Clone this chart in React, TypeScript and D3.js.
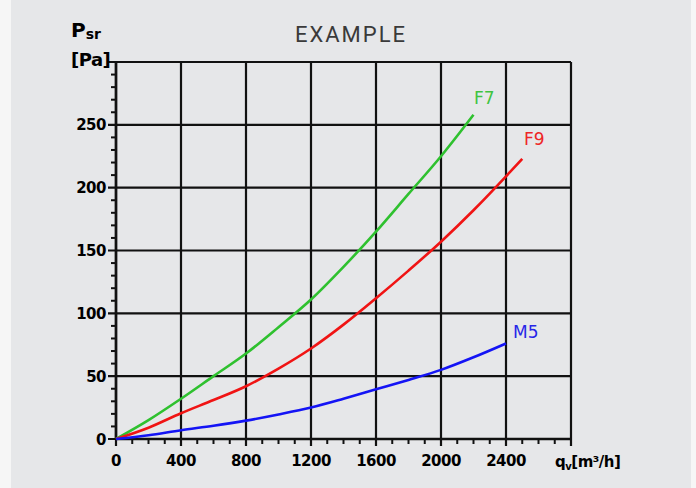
import React from "react";
import * as d3 from "d3";

const flowQ = [0, 200, 400, 600, 800, 1000, 1200, 1400, 1600, 1800, 2000, 2200, 2400, 2500];
const f7Values = [0, 15, 32, 50, 68, 89, 111, 137, 165, 195, 225, 258, null, null];
const f9Values = [0, 9, 20.5, 31, 42, 56, 72, 91, 112, 134, 157, 182, 209, 223];
const m5Values = [0, 3, 7, 10.5, 14.6, 19.5, 25, 32, 39.5, 47, 55, 65, 76, null];

const seriesNames = ["F7", "F9", "M5"];
const xTicks = [0, 400, 800, 1200, 1600, 2000, 2400];
const yTicks = [0, 50, 100, 150, 200, 250];

const W = 696;
const H = 488;

export default function App() {
  const x = d3.scaleLinear().domain([0, 2800]).range([116, 571]);
  const y = d3.scaleLinear().domain([0, 300]).range([439, 62]);

  const series = [
    { name: seriesNames[0], values: f7Values, color: "#2fc12f", label: "#3fc43f" },
    { name: seriesNames[1], values: f9Values, color: "#f01414", label: "#ee2626" },
    { name: seriesNames[2], values: m5Values, color: "#1414f5", label: "#2626e8" },
  ];

  const line = d3
    .line<[number, number]>()
    .x((d) => x(d[0]))
    .y((d) => y(d[1]))
    .curve(d3.curveMonotoneX);

  const minorX = d3.range(0, 2801, 100).filter((v) => v % 400 !== 0);
  const minorY = d3.range(0, 301, 10).filter((v) => v % 50 !== 0);

  const labelFont = "'DejaVu Sans', sans-serif";

  return (
    <svg
      width={W}
      height={H}
      style={{ position: "absolute", left: 0, top: 0, background: "#f6f6f6" }}
    >
      <rect x={11} y={0} width={680} height={H} fill="#e6e7e9" />
      <text
        x={351}
        y={42}
        textAnchor="middle"
        fontFamily="Roboto, 'Open Sans', sans-serif"
        fontSize={22}
        letterSpacing={2}
        fill="#3a3a3a"
      >
        EXAMPLE
      </text>

      {/* grid */}
      {xTicks.concat([2800]).map((v) => (
        <line
          key={"gx" + v}
          x1={x(v)}
          x2={x(v)}
          y1={y(300)}
          y2={y(0) + 7}
          stroke="#111"
          strokeWidth={2.2}
        />
      ))}
      {yTicks.concat([300]).map((v) => (
        <line
          key={"gy" + v}
          x1={x(0) - 8}
          x2={x(2800)}
          y1={y(v)}
          y2={y(v)}
          stroke="#111"
          strokeWidth={2.2}
        />
      ))}
      {minorX.map((v) => (
        <line key={"mx" + v} x1={x(v)} x2={x(v)} y1={y(0)} y2={y(0) + 5} stroke="#111" strokeWidth={2} />
      ))}
      {minorY.map((v) => (
        <line key={"my" + v} x1={x(0) - 5} x2={x(0)} y1={y(v)} y2={y(v)} stroke="#111" strokeWidth={2} />
      ))}
      <line x1={x(0)} x2={x(0)} y1={y(300)} y2={y(0)} stroke="#111" strokeWidth={2.6} />
      <line x1={x(0)} x2={x(2800)} y1={y(0)} y2={y(0)} stroke="#111" strokeWidth={2.6} />

      {/* curves */}
      {series.map((s) => {
        const pts: [number, number][] = [];
        flowQ.forEach((q, i) => {
          const v = s.values[i];
          if (v !== null && v !== undefined) pts.push([q, v]);
        });
        return (
          <path
            key={s.name}
            d={line(pts) || ""}
            fill="none"
            stroke={s.color}
            strokeWidth={2.6}
          />
        );
      })}

      {/* series labels */}
      <text x={474} y={104} fontFamily={labelFont} fontSize={17} fill={series[0].label}>
        {series[0].name}
      </text>
      <text x={524} y={145} fontFamily={labelFont} fontSize={17} fill={series[1].label}>
        {series[1].name}
      </text>
      <text x={513} y={338} fontFamily={labelFont} fontSize={17} fill={series[2].label}>
        {series[2].name}
      </text>

      {/* tick labels */}
      {yTicks.map((v) => (
        <text
          key={"ly" + v}
          x={106}
          y={y(v) + 5.5}
          textAnchor="end"
          fontFamily={labelFont}
          fontWeight="bold"
          fontSize={15}
          letterSpacing={-0.5}
          fill="#000"
        >
          {v}
        </text>
      ))}
      {xTicks.map((v) => (
        <text
          key={"lx" + v}
          x={x(v)}
          y={466}
          textAnchor="middle"
          fontFamily={labelFont}
          fontWeight="bold"
          fontSize={15}
          letterSpacing={-0.5}
          fill="#000"
        >
          {v}
        </text>
      ))}

      {/* axis titles */}
      <text x={71} y={37} fontFamily={labelFont} fontWeight="bold" fontSize={20} fill="#000">
        P<tspan fontSize={14} dy={2}>sr</tspan>
      </text>
      <text x={71} y={66} fontFamily={labelFont} fontWeight="bold" fontSize={18} letterSpacing={-0.5} fill="#000">
        [Pa]
      </text>
      <text x={555} y={467} fontFamily={labelFont} fontWeight="bold" fontSize={15} letterSpacing={-0.5} fill="#000">
        q<tspan fontSize={10} dy={3}>v</tspan>
        <tspan dy={-3}>[m³/h]</tspan>
      </text>
    </svg>
  );
}
